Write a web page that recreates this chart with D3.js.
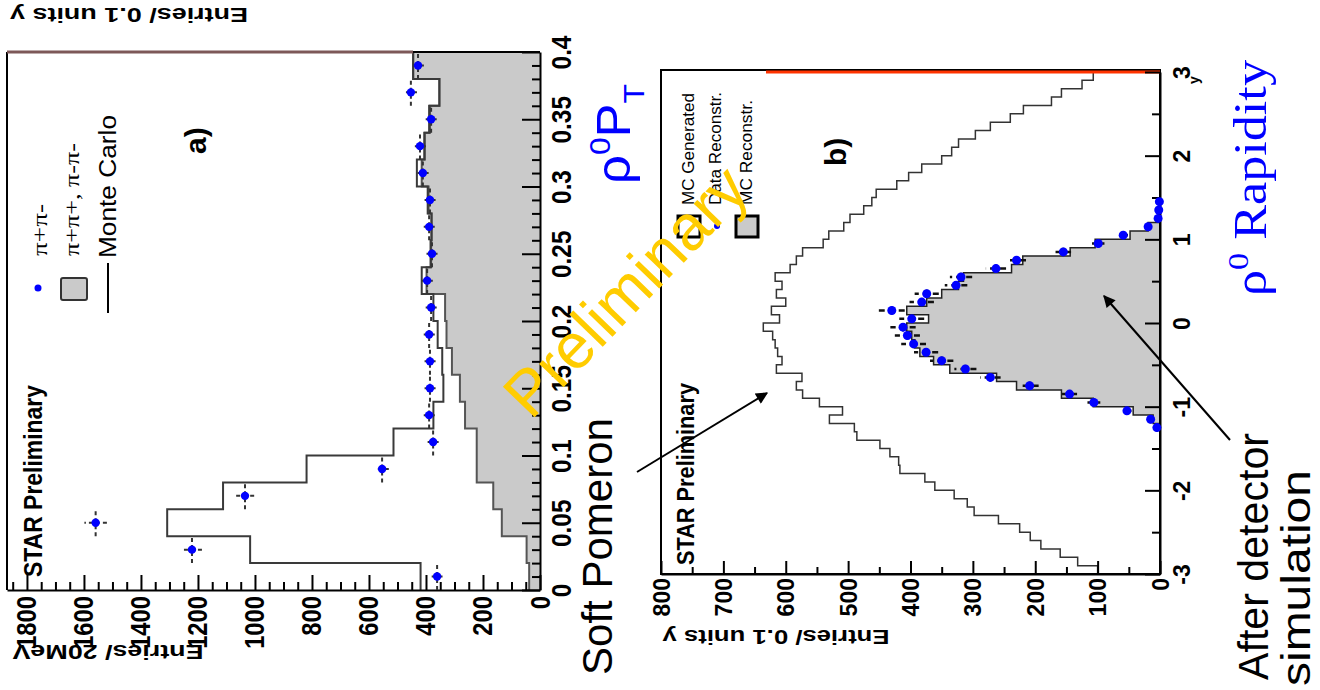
<!DOCTYPE html>
<html>
<head>
<meta charset="utf-8">
<script src="https://cdn.jsdelivr.net/npm/d3@7"></script>
<style>
body { margin: 0; background: #fff; }
svg { display: block; }
</style>
</head>
<body>
<script>
// ---- panel a) rho0 pT, 20 MeV bins ----
var ptLow = [0, 0.02, 0.04, 0.06, 0.08, 0.10, 0.12, 0.14, 0.16, 0.18, 0.20, 0.22, 0.24, 0.26, 0.28, 0.30, 0.32, 0.34, 0.36, 0.38];
var ptData = [361, 1221, 1559, 1035, 554, 375, 389, 386, 386, 389, 382, 396, 379, 389, 386, 411, 421, 382, 453, 428];
var ptMonteCarlo = [419, 1017, 1308, 1112, 819, 514, 374, 339, 343, 359, 374, 415, 384, 381, 394, 432, 406, 389, 353, 445];
var ptLikeSign = [38, 47, 134, 164, 222, 222, 263, 281, 309, 328, 333, 398, 382, 380, 391, 415, 404, 386, 353, 445];
var ptTicks = [0, 0.05, 0.1, 0.15, 0.2, 0.25, 0.3, 0.35, 0.4];
var countTicksA = [0, 200, 400, 600, 800, 1000, 1200, 1400, 1600, 1800];

// ---- panel b) rho0 rapidity, 0.1 unit bins ----
var rapLow = [-3.0, -2.9, -2.8, -2.7, -2.6, -2.5, -2.4, -2.3, -2.2, -2.1,
              -2.0, -1.9, -1.8, -1.7, -1.6, -1.5, -1.4, -1.3, -1.2, -1.1,
              -1.0, -0.9, -0.8, -0.7, -0.6, -0.5, -0.4, -0.3, -0.2, -0.1,
               0.0,  0.1,  0.2,  0.3,  0.4,  0.5,  0.6,  0.7,  0.8,  0.9,
               1.0,  1.1,  1.2,  1.3,  1.4,  1.5,  1.6,  1.7,  1.8,  1.9,
               2.0,  2.1,  2.2,  2.3,  2.4,  2.5,  2.6,  2.7,  2.8,  2.9];
var rapMcGen = [100, 132, 160, 191, 208, 225, 259, 298, 309, 330,
                361, 377, 417, 419, 433, 449, 486, 490, 530, 509,
                546, 573, 583, 574, 615, 606, 613, 617, 621, 636,
                610, 623, 600, 615, 606, 617, 593, 583, 573, 540,
                531, 507, 497, 475, 462, 455, 422, 403, 382, 350,
                334, 323, 296, 272, 240, 219, 174, 158, 125, 107];
var rapMcRec = [0, 0, 0, 0, 0, 0, 0, 0, 0, 0,
                0, 0, 0, 0, 0, 0, 0, 0, 11, 43,
                107, 158, 230, 262, 337, 363, 385, 393, 398, 406,
                371, 406, 374, 350, 323, 315, 238, 220, 144, 104,
                48, 19, 0, 0, 0, 0, 0, 0, 0, 0,
                0, 0, 0, 0, 0, 0, 0, 0, 0, 0];
var rapDataY = [-1.25, -1.15, -1.05, -0.95, -0.85, -0.75, -0.65, -0.55, -0.45, -0.35, -0.25, -0.15, -0.05,
                0.05, 0.15, 0.25, 0.35, 0.45, 0.55, 0.65, 0.75, 0.85, 0.95, 1.05, 1.15, 1.25, 1.35, 1.45];
var rapData = [5, 15, 53, 106, 145, 209, 272, 312, 350, 375, 395, 405, 412,
               398, 430, 382, 374, 327, 319, 263, 230, 155, 99, 59, 19, 3, 2, 1];
var rapTicks = [-3, -2, -1, 0, 1, 2, 3];
var countTicksB = [0, 100, 200, 300, 400, 500, 600, 700, 800];

var sans = "'Liberation Sans', Arial, Helvetica, sans-serif";
var serif = "'Liberation Serif', 'Times New Roman', serif";
var grayFill = "#cacaca";

var width = 1320, height = 690;
var svg = d3.select("body").append("svg").attr("width", width).attr("height", height);

svg.append("defs").append("marker")
  .attr("id", "arrow").attr("viewBox", "0 0 10 10").attr("refX", 9).attr("refY", 5)
  .attr("markerWidth", 7).attr("markerHeight", 6).attr("orient", "auto")
  .append("path").attr("d", "M0,0L10,5L0,10z").attr("fill", "#000");

// build step outline points for a histogram drawn sideways
function steps(low, vals, w) {
  var pts = [];
  low.forEach(function(lo, i) {
    pts.push({p: lo, v: vals[i]});
    pts.push({p: lo + w, v: vals[i]});
  });
  return pts;
}

function styleAxis(g, size) {
  g.attr("font-family", sans).attr("font-size", size);
  g.selectAll(".tick text").attr("font-weight", "bold");
  g.select(".domain").attr("stroke-width", 2);
  g.selectAll(".tick line").attr("stroke-width", 2);
}

// text that reads bottom to top
function vtext(x, y, str, o) {
  var t = svg.append("text")
    .attr("transform", "translate(" + x + "," + y + ") rotate(-90)")
    .attr("font-family", o.family || sans)
    .attr("font-size", o.size)
    .attr("font-weight", o.weight || "normal")
    .attr("fill", o.fill || "#000")
    .text(str);
  if (o.len) t.attr("textLength", o.len).attr("lengthAdjust", "spacingAndGlyphs");
  return t;
}

// upside down text
function utext(x, y, str, o) {
  return svg.append("text")
    .attr("transform", "translate(" + x + "," + y + ") rotate(180)")
    .attr("text-anchor", "middle")
    .attr("font-family", sans).attr("font-size", o.size).attr("font-weight", "bold")
    .attr("textLength", o.len).attr("lengthAdjust", "spacingAndGlyphs")
    .text(str);
}

//==================== panel a ====================
var xA = d3.scaleLinear().domain([0, 1870]).range([540, 7]);
var yA = d3.scaleLinear().domain([0, 0.4]).range([590, 52]);

var lsPts = steps(ptLow, ptLikeSign, 0.02);
svg.append("path").datum(lsPts)
  .attr("d", d3.area().y(function(d){ return yA(d.p); }).x0(xA(0)).x1(function(d){ return xA(d.v); }))
  .attr("fill", grayFill);
svg.append("path").datum(lsPts)
  .attr("d", d3.line().x(function(d){ return xA(d.v); }).y(function(d){ return yA(d.p); }))
  .attr("fill", "none").attr("stroke", "#555").attr("stroke-width", 2);

svg.append("path").datum(steps(ptLow, ptMonteCarlo, 0.02))
  .attr("d", d3.line().x(function(d){ return xA(d.v); }).y(function(d){ return yA(d.p); }))
  .attr("fill", "none").attr("stroke", "#3a3a3a").attr("stroke-width", 2);

// frame
svg.append("line").attr("x1", 7).attr("y1", 52).attr("x2", 7).attr("y2", 590).attr("stroke", "#000").attr("stroke-width", 2);
svg.append("line").attr("x1", 413).attr("y1", 52).attr("x2", 540).attr("y2", 52).attr("stroke", "#000").attr("stroke-width", 2);
svg.append("line").attr("x1", 7).attr("y1", 52).attr("x2", 413).attr("y2", 52).attr("stroke", "#7d5858").attr("stroke-width", 3);

var axA = svg.append("g").attr("transform", "translate(0,590)")
  .call(d3.axisBottom(xA).tickValues(countTicksA).tickSize(-15).tickSizeOuter(0).tickFormat(function(d){ return String(d); }));
styleAxis(axA, 27);
axA.selectAll(".tick text").attr("x", 0).attr("y", 0).attr("dy", null)
  .attr("text-anchor", "end").attr("transform", "translate(9,6) rotate(-90) scale(0.88,1)");
var mnA = svg.append("g").attr("transform", "translate(0,590)")
  .call(d3.axisBottom(xA).tickValues(d3.range(50, 1870, 50).filter(function(d){ return d % 200; })).tickSize(-8).tickFormat(""));
mnA.select(".domain").remove();
mnA.selectAll(".tick line").attr("stroke-width", 2);

var ayA = svg.append("g").attr("transform", "translate(540,0)")
  .call(d3.axisRight(yA).tickValues(ptTicks).tickSize(-18).tickSizeOuter(0).tickFormat(d3.format("~g")));
styleAxis(ayA, 27);
ayA.selectAll(".tick text").attr("x", 0).attr("dy", null)
  .attr("text-anchor", "middle").attr("transform", "translate(31,0) rotate(-90) scale(0.9,1)");
var mnAy = svg.append("g").attr("transform", "translate(540,0)")
  .call(d3.axisRight(yA).tickValues(d3.range(1, 40).filter(function(d){ return d % 5; }).map(function(d){ return d / 100; })).tickSize(-8).tickFormat(""));
mnAy.select(".domain").remove();
mnAy.selectAll(".tick line").attr("stroke-width", 2);

// data points with error bars
var ptPts = svg.append("g").selectAll("g").data(ptData).enter().append("g");
ptPts.append("line")
  .attr("x1", function(d){ return xA(d); }).attr("x2", function(d){ return xA(d); })
  .attr("y1", function(d, i){ return yA(ptLow[i]); }).attr("y2", function(d, i){ return yA(ptLow[i] + 0.02); })
  .attr("stroke", "#333").attr("stroke-width", 2).attr("stroke-dasharray", "4,3");
ptPts.append("line")
  .attr("x1", function(d){ return xA(d - Math.sqrt(d)); }).attr("x2", function(d){ return xA(d + Math.sqrt(d)); })
  .attr("y1", function(d, i){ return yA(ptLow[i] + 0.01); }).attr("y2", function(d, i){ return yA(ptLow[i] + 0.01); })
  .attr("stroke", "#333").attr("stroke-width", 2).attr("stroke-dasharray", "4,3");
ptPts.append("circle")
  .attr("cx", function(d){ return xA(d); }).attr("cy", function(d, i){ return yA(ptLow[i] + 0.01); })
  .attr("r", 4.2).attr("fill", "#0000ff");

// legend a
svg.append("circle").attr("cx", 38).attr("cy", 288).attr("r", 3.5).attr("fill", "#0000ff");
vtext(47, 256, "\u03c0+\u03c0-", {family: serif, size: 20, len: 52});
svg.append("rect").attr("x", 61).attr("y", 278).attr("width", 26).attr("height", 22).attr("rx", 2)
  .attr("fill", grayFill).attr("stroke", "#333").attr("stroke-width", 2);
vtext(79, 256, "\u03c0+\u03c0+, \u03c0-\u03c0-", {family: serif, size: 20, len: 113});
svg.append("line").attr("x1", 108).attr("y1", 263).attr("x2", 108).attr("y2", 313).attr("stroke", "#000").attr("stroke-width", 2);
vtext(116, 258, "Monte Carlo", {size: 23, len: 143});
vtext(206, 154, "a)", {size: 30, weight: "bold"});
vtext(42, 577, "STAR Preliminary", {size: 25, weight: "bold", len: 192});
utext(108, 645, "Entries/ 20MeV", {size: 21, len: 191});
utext(129, 8, "Entries/ 0.1 units y", {size: 20, len: 238});

//==================== panel b ====================
var xB = d3.scaleLinear().domain([0, 800]).range([1160, 661]);
var yB = d3.scaleLinear().domain([-3, 3]).range([574, 72]);

var recPts = steps(rapLow, rapMcRec, 0.1);
svg.append("path").datum(recPts)
  .attr("d", d3.area().y(function(d){ return yB(d.p); }).x0(xB(0)).x1(function(d){ return xB(d.v); }))
  .attr("fill", grayFill);
svg.append("path").datum(recPts)
  .attr("d", d3.line().x(function(d){ return xB(d.v); }).y(function(d){ return yB(d.p); }))
  .attr("fill", "none").attr("stroke", "#222").attr("stroke-width", 1.5);
svg.append("path").datum(steps(rapLow, rapMcGen, 0.1))
  .attr("d", d3.line().x(function(d){ return xB(d.v); }).y(function(d){ return yB(d.p); }))
  .attr("fill", "none").attr("stroke", "#333").attr("stroke-width", 1.5);

svg.append("rect").attr("x", 661).attr("y", 70).attr("width", 499).attr("height", 504)
  .attr("fill", "none").attr("stroke", "#000").attr("stroke-width", 2);
svg.append("line").attr("x1", 766).attr("y1", 72).attr("x2", 1160).attr("y2", 72).attr("stroke", "#ff3300").attr("stroke-width", 3);

var axB = svg.append("g").attr("transform", "translate(0,574)")
  .call(d3.axisBottom(xB).tickValues(countTicksB).tickSize(-13).tickSizeOuter(0).tickFormat(function(d){ return String(d); }));
styleAxis(axB, 23);
axB.selectAll(".tick text").attr("x", 0).attr("y", 0).attr("dy", null)
  .attr("text-anchor", "end").attr("transform", "translate(8,4) rotate(-90)");
var mnB = svg.append("g").attr("transform", "translate(0,574)")
  .call(d3.axisBottom(xB).tickValues([50, 150, 250, 350, 450, 550, 650, 750]).tickSize(-7).tickFormat(""));
mnB.select(".domain").remove();
mnB.selectAll(".tick line").attr("stroke-width", 2);

var ayB = svg.append("g").attr("transform", "translate(1160,0)")
  .call(d3.axisRight(yB).tickValues(rapTicks).tickSize(-15).tickSizeOuter(0).tickFormat(function(d){ return String(d); }));
styleAxis(ayB, 23);
ayB.selectAll(".tick text").attr("x", 0).attr("dy", null)
  .attr("text-anchor", "middle").attr("transform", "translate(30,0) rotate(-90)");
var mnBy = svg.append("g").attr("transform", "translate(1160,0)")
  .call(d3.axisRight(yB).tickValues([-2.5, -1.5, -0.5, 0.5, 1.5, 2.5]).tickSize(-8).tickFormat(""));
mnBy.select(".domain").remove();
mnBy.selectAll(".tick line").attr("stroke-width", 2);
vtext(1199, 84, "y", {size: 14, weight: "bold"});

var rapPts = svg.append("g").selectAll("g").data(rapData).enter().append("g");
rapPts.append("line")
  .attr("x1", function(d){ return xB(d - Math.sqrt(d)); }).attr("x2", function(d){ return xB(d + Math.sqrt(d)); })
  .attr("y1", function(d, i){ return yB(rapDataY[i]); }).attr("y2", function(d, i){ return yB(rapDataY[i]); })
  .attr("stroke", "#111").attr("stroke-width", 2.5).attr("stroke-dasharray", "6,4");
rapPts.append("line")
  .attr("x1", function(d){ return xB(d); }).attr("x2", function(d){ return xB(d); })
  .attr("y1", function(d, i){ return yB(rapDataY[i] - 0.05); }).attr("y2", function(d, i){ return yB(rapDataY[i] + 0.05); })
  .attr("stroke", "#111").attr("stroke-width", 2);
rapPts.append("circle")
  .attr("cx", function(d){ return xB(d); }).attr("cy", function(d, i){ return yB(rapDataY[i]); })
  .attr("r", 4.5).attr("fill", "#0000ff");

// legend b
svg.append("rect").attr("x", 678).attr("y", 216).attr("width", 22).attr("height", 21)
  .attr("fill", "#fff").attr("stroke", "#000").attr("stroke-width", 3);
vtext(694, 205, "MC Generated", {size: 17, len: 112});
svg.append("circle").attr("cx", 717).attr("cy", 226).attr("r", 3).attr("fill", "#0000ff");
vtext(721, 205, "Data Reconstr.", {size: 17, len: 113});
svg.append("rect").attr("x", 736).attr("y", 216).attr("width", 22).attr("height", 21)
  .attr("fill", grayFill).attr("stroke", "#000").attr("stroke-width", 3);
vtext(752, 205, "MC Reconstr.", {size: 17, len: 105});
vtext(846, 166, "b)", {size: 30, weight: "bold"});
vtext(694, 565, "STAR Preliminary", {size: 23, weight: "bold", len: 182});
utext(776, 630, "Entries/ 0.1 units y", {size: 20, len: 227});

//==================== annotations ====================
var ptT = svg.append("text")
  .attr("transform", "translate(630,184) rotate(-90)")
  .attr("font-family", sans).attr("fill", "#0000ff")
  .attr("textLength", 100).attr("lengthAdjust", "spacingAndGlyphs");
ptT.append("tspan").attr("font-size", 48).text("\u03c1");
ptT.append("tspan").attr("font-size", 30).attr("dy", -20).text("0");
ptT.append("tspan").attr("font-size", 48).attr("dy", 20).text("P");
ptT.append("tspan").attr("font-size", 30).attr("dy", 14).text("T");

var rapT = svg.append("text")
  .attr("transform", "translate(1266,296) rotate(-90)")
  .attr("font-family", serif).attr("fill", "#0000ff")
  .attr("textLength", 236).attr("lengthAdjust", "spacingAndGlyphs");
rapT.append("tspan").attr("font-size", 46).text("\u03c1");
rapT.append("tspan").attr("font-size", 30).attr("dy", -18).text("0");
rapT.append("tspan").attr("font-size", 46).attr("dy", 18).text(" Rapidity");

vtext(612, 675, "Soft Pomeron", {size: 42, len: 257});
vtext(1268, 680, "After detector", {size: 42, len: 247});
vtext(1310, 686, "simulation", {size: 41, len: 216});

svg.append("line").attr("x1", 637).attr("y1", 472).attr("x2", 767).attr("y2", 393)
  .attr("stroke", "#000").attr("stroke-width", 2).attr("marker-end", "url(#arrow)");
svg.append("line").attr("x1", 1230).attr("y1", 440).attr("x2", 1104).attr("y2", 296)
  .attr("stroke", "#000").attr("stroke-width", 2).attr("marker-end", "url(#arrow)");

svg.append("text")
  .attr("transform", "translate(531,421) rotate(-46)")
  .attr("font-family", sans).attr("font-size", 64).attr("fill", "#ffcc00")
  .attr("textLength", 318).attr("lengthAdjust", "spacingAndGlyphs")
  .text("Preliminary");
</script>
</body>
</html>
